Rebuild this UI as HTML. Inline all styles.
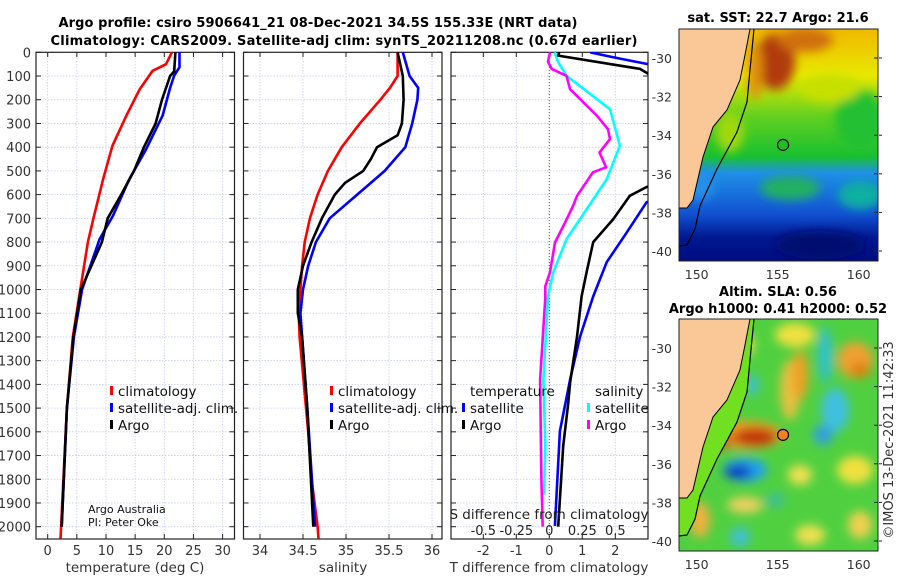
<!DOCTYPE html>
<html><head><meta charset="utf-8"><style>
html,body{margin:0;padding:0;background:#fff;}
svg{display:block;font-family:"DejaVu Sans","Liberation Sans",sans-serif;}
</style></head><body>
<svg id="fig" width="900" height="580" viewBox="0 0 900 580" xmlns="http://www.w3.org/2000/svg">
<defs>
<clipPath id="c1"><rect x="36" y="52" width="198.5" height="487"/></clipPath>
<clipPath id="c2"><rect x="243.5" y="52" width="198.5" height="487"/></clipPath>
<clipPath id="c3"><rect x="451" y="52" width="197" height="487"/></clipPath>
<clipPath id="m1"><rect x="679" y="29" width="199" height="232"/></clipPath>
<clipPath id="m2"><rect x="679" y="319" width="199" height="232"/></clipPath>
<filter id="bl" x="-50%" y="-50%" width="200%" height="200%"><feGaussianBlur stdDeviation="9"/></filter>
<filter id="bl2" x="-50%" y="-50%" width="200%" height="200%"><feGaussianBlur stdDeviation="5"/></filter>
<linearGradient id="sstg" x1="0" y1="0" x2="0" y2="1">
<stop offset="0" stop-color="#f0b800"/><stop offset="0.2" stop-color="#e8e800"/><stop offset="0.38" stop-color="#60d020"/><stop offset="0.55" stop-color="#18c030"/><stop offset="0.62" stop-color="#2090e8"/><stop offset="0.8" stop-color="#1050d0"/><stop offset="0.9" stop-color="#001890"/><stop offset="1" stop-color="#000c80"/>
</linearGradient>
</defs>
<g font-weight="bold" font-size="13" text-anchor="middle" fill="#000">
<text x="318" y="27" textLength="519">Argo profile: csiro 5906641_21 08-Dec-2021 34.5S 155.33E (NRT data)</text>
<text x="344" y="45" textLength="587">Climatology: CARS2009. Satellite-adj clim: synTS_20211208.nc (0.67d earlier)</text>
</g>
<g id="plots"></g>
<g id="maps"></g>
</svg>
<script>
const NS="http://www.w3.org/2000/svg";
// ---- data ----
const tDepth=[0,50,78,155,267,394,535,704,800,1000,1200,1500,2000,2050];
const tClim=[21.3,20.3,18.0,15.8,13.5,11.1,9.5,7.8,6.9,5.6,4.3,3.3,2.3,2.2];
const sbDepth=[0,63,98,150,267,408,535,689,788,1000,1200,1500,2000];
const tSat=[22.6,22.6,21.7,21.0,19.7,16.9,14.0,11.2,8.9,5.9,4.5,3.3,2.4];
const taDepth=[0,80,100,200,300,400,500,600,700,800,1000,1200,1500,2000];
const tArgo=[21.9,21.7,21.0,19.6,18.5,16.5,14.8,12.6,10.3,9.3,5.7,4.4,3.3,2.4];
const sDepth=[0,100,150,200,300,400,500,600,700,800,900,1000,1100,1200,1400,1600,1800,2000,2050];
const sClim=[35.60,35.60,35.51,35.40,35.16,34.95,34.79,34.67,34.58,34.52,34.49,34.47,34.45,34.46,34.51,34.56,34.60,34.67,34.68];
const sbsDepth=[0,100,150,200,300,400,500,600,700,800,900,1000,1100,1200,1500,2000];
const sSat=[35.66,35.74,35.84,35.83,35.77,35.69,35.45,35.13,34.81,34.65,34.56,34.50,34.47,34.49,34.55,34.64];
const saDepth=[0,100,200,300,350,400,450,500,550,600,700,800,900,1000,1100,1200,1500,2000];
const sArgo=[35.60,35.66,35.67,35.65,35.60,35.36,35.29,35.20,34.99,34.87,34.72,34.60,34.50,34.44,34.44,34.49,34.55,34.62];
const dtsDepth=[0,20,49,70,600,632,761,885,1029,1200,1380,1597,1997];
const dtSat=[1.24,1.9,2.95,3.6,3.6,2.95,2.34,1.74,1.33,0.93,0.63,0.32,0.17];
const dtaDepth=[0,14,70,99,150,540,568,605,703,800,927,1029,1200,1392,1485,1660,2000];
const dtArgo=[0.3,0.27,2.75,3.1,3.6,3.6,2.95,2.44,1.94,1.33,1.13,0.98,0.84,0.63,0.57,0.42,0.27];
const dssDepth=[0,40,99,240,394,535,661,788,927,1029,1380,1660,1865];
const dsSat=[0.04,0.066,0.13,0.46,0.535,0.435,0.283,0.13,0.03,-0.01,-0.045,-0.03,-0.04];
const dsaDepth=[0,40,70,99,155,267,324,366,422,485,506,605,647,717,802,927,986,1035,1380,1800,2000];
const dsArgo=[0.005,-0.01,0.018,0.13,0.157,0.36,0.445,0.46,0.38,0.43,0.33,0.21,0.18,0.12,0.043,0.005,-0.03,-0.03,-0.07,-0.06,-0.05];
const depthTicks=[0,100,200,300,400,500,600,700,800,900,1000,1100,1200,1300,1400,1500,1600,1700,1800,1900,2000];
const tTicks=[0,5,10,15,20,25,30];
const sTicks=[34,34.5,35,35.5,36];
const dtTicks=[-2,-1,0,1,2];
const dsTicks=[-0.5,-0.25,0,0.25,0.5];
const latTicks=[-30,-32,-34,-36,-38,-40];
const lonTicks=[150,155,160];
// ---- scales ----
const Y=d=>52.3+d*0.2372;
const XT=t=>47.7+t*5.83;
const XS=s=>260+(s-34)*86;
const XDT=v=>549.3+v*33;
const XDS=v=>549.3+v*132;
const LON=l=>696.7+(l-150)*16.2;
const LAT1=a=>58+(-30-a)*19.3;
const LAT2=a=>348+(-30-a)*19.3;
const root=document.getElementById('plots');
function el(tag,attrs,parent,txt){const e=document.createElementNS(NS,tag);for(const k in attrs)e.setAttribute(k,attrs[k]);if(txt!==undefined)e.textContent=txt;(parent||root).appendChild(e);return e;}
const panels=[{x0:36,x1:234.5,ticks:tTicks,sx:XT,fmt:v=>String(v),clip:'c1',name:'temperature'},
{x0:243.5,x1:442,ticks:sTicks,sx:XS,fmt:v=>String(v),clip:'c2',name:'salinity'},
{x0:451,x1:648,ticks:dtTicks,sx:XDT,fmt:v=>String(v),clip:'c3',name:'difference'}];
panels.forEach((p,i)=>{
 const g=el('g',{});
 
 
 depthTicks.forEach(d=>{const l=el('line',{x1:p.x0,x2:p.x1,y1:Y(d),y2:Y(d),stroke:'#c8cce8','stroke-width':0.8,'stroke-dasharray':'1.5,1.5'},g);
  el('line',{x1:p.x0,x2:p.x0+5,y1:Y(d),y2:Y(d),stroke:'#222'},g);el('line',{x1:p.x1-5,x2:p.x1,y1:Y(d),y2:Y(d),stroke:'#222'},g);});
 p.ticks.forEach(t=>{const x=p.sx(t);const l=el('line',{x1:x,x2:x,y1:52,y2:539,stroke:'#c8cce8','stroke-width':0.8,'stroke-dasharray':'1.5,1.5'},g);
  el('line',{x1:x,x2:x,y1:52,y2:57,stroke:'#222'},g);el('line',{x1:x,x2:x,y1:534,y2:539,stroke:'#222'},g);
  const tx=el('text',{x:x,y:555,'font-size':13,'text-anchor':'middle',fill:'#333'},g,p.fmt(t));});
 const r=el('rect',{x:p.x0,y:52.3,width:p.x1-p.x0,height:486.7,fill:'none',stroke:'#222','stroke-width':1.2},g);
 
});
depthTicks.forEach(d=>{const t=el('text',{x:31,y:Y(d)+5,'font-size':13,'text-anchor':'end',fill:'#333'},root,String(d));});
function line(xs,ds,sx,color,clip,name,w){const pts=xs.map((v,i)=>sx(v).toFixed(1)+','+Y(ds[i]).toFixed(1)).join(' ');const pl=el('polyline',{points:pts,fill:'none',stroke:color,'stroke-width':w||2.6,'stroke-linejoin':'round','clip-path':'url(#'+clip+')'});}
const z=el('line',{x1:XDT(0),x2:XDT(0),y1:52,y2:539,stroke:'#556b2f','stroke-width':1,'stroke-dasharray':'1,2'});

line(tClim,tDepth,XT,'#ff0000','c1','temperature-climatology-line');
line(tSat,sbDepth,XT,'#0000ff','c1','temperature-satellite-line');
line(tArgo,taDepth,XT,'#000','c1','temperature-argo-line');
line(sClim,sDepth,XS,'#ff0000','c2','salinity-climatology-line');
line(sSat,sbsDepth,XS,'#0000ff','c2','salinity-satellite-line');
line(sArgo,saDepth,XS,'#000','c2','salinity-argo-line');
line(dsSat,dssDepth,XDS,'#00ffff','c3','salinity-diff-satellite-line');
line(dsArgo,dsaDepth,XDS,'#ff00ff','c3','salinity-diff-argo-line');
line(dtSat,dtsDepth,XDT,'#0000ff','c3','temperature-diff-satellite-line');
line(dtArgo,dtaDepth,XDT,'#000','c3','temperature-diff-argo-line');
[['temperature (deg C)',135,'x-axis-title-temperature'],['salinity',343,'x-axis-title-salinity'],['T difference from climatology',549,'x-axis-title-t-difference']].forEach(a=>{const t=el('text',{x:a[1],y:572,'font-size':13.5,'text-anchor':'middle',fill:'#333'},root,a[0]);});
const st=el('text',{x:549,y:519,'font-size':13.5,'text-anchor':'middle',fill:'#222'},root,'S difference from climatology');

dsTicks.forEach(v=>{const t=el('text',{x:XDS(v),y:535,'font-size':13,'text-anchor':'middle',fill:'#222'},root,String(v));});
function leg(x,y,color,label,name){const g=el('g',{});el('rect',{x:x,y:y-10,width:3,height:9,fill:color},g);el('text',{x:x+8,y:y,'font-size':13.5,fill:'#111'},g,label);}
leg(110,396,'#ff0000','climatology','legend-climatology');
leg(110,413,'#0000ff','satellite-adj. clim.','legend-satellite-adj');
leg(110,430,'#000','Argo','legend-argo');
leg(330,396,'#ff0000','climatology','legend-climatology-salinity');
leg(330,413,'#0000ff','satellite-adj. clim.','legend-satellite-adj-salinity');
leg(330,430,'#000','Argo','legend-argo-salinity');
const lt=el('text',{x:470,y:396,'font-size':13.5,fill:'#111'},root,'temperature');
const ls=el('text',{x:595,y:396,'font-size':13.5,fill:'#111'},root,'salinity');
leg(462,413,'#0000ff','satellite','legend-t-satellite');
leg(462,430,'#000','Argo','legend-t-argo');
leg(587,413,'#00ffff','satellite','legend-s-satellite');
leg(587,430,'#ff00ff','Argo','legend-s-argo');
const a1=el('text',{x:88,y:513,'font-size':11,fill:'#111'},root,'Argo Australia');
const a2=el('text',{x:88,y:526,'font-size':11,fill:'#111'},root,'PI: Peter Oke');

// ---- maps ----
const mroot=document.getElementById('maps');
function mel(tag,attrs,parent,txt){return el(tag,attrs,parent||mroot,txt);}
const coast=[[750,29],[745,55],[740,80],[727,110],[713,127],[703,157],[693,200],[687,208],[679,208]];
const shelf=[[754,29],[750,70],[747,102],[737,132],[717,169],[700,206],[695,229],[687,245],[679,246]];
function drawMap(off,clip,name,kind){
 const g=mel('g',{'clip-path':'url(#'+clip+')'});
 
 
 const y0=off?319:29;
 if(kind==='sst'){
  mel('rect',{x:679,y:y0,width:199,height:232,fill:'url(#sstg)'},g);
  const b=mel('g',{filter:'url(#bl2)'},g);
  mel('ellipse',{cx:775,cy:62,rx:20,ry:28,fill:'#b03a10'},b);
  mel('ellipse',{cx:805,cy:40,rx:28,ry:12,fill:'#d07010'},b);
  mel('ellipse',{cx:755,cy:70,rx:8,ry:30,fill:'#e09010'},b);
  mel('ellipse',{cx:860,cy:120,rx:25,ry:30,fill:'#20c030'},b);
  mel('ellipse',{cx:830,cy:88,rx:30,ry:14,fill:'#c8e000'},b);
  mel('ellipse',{cx:730,cy:132,rx:14,ry:20,fill:'#a0d810'},b);
  mel('ellipse',{cx:860,cy:195,rx:22,ry:14,fill:'#10b0a0'},b);
  mel('ellipse',{cx:790,cy:188,rx:30,ry:12,fill:'#20b060'},b);
  mel('ellipse',{cx:700,cy:185,rx:15,ry:15,fill:'#2090e8'},b);
  mel('ellipse',{cx:820,cy:245,rx:45,ry:14,fill:'#000a70'},b);
 } else {
  mel('rect',{x:679,y:y0,width:199,height:232,fill:'#50d040'},g);
  const b=mel('g',{filter:'url(#bl2)'},g);
  [[740,345,14,12,'#f0e060'],[795,335,20,12,'#f0e040'],[790,390,10,30,'#e8c040'],[800,375,8,25,'#f0a020'],
   [855,360,18,18,'#f0a030'],[860,370,10,8,'#e08010'],[745,435,38,14,'#f0a020'],[755,437,22,9,'#c03010'],[720,440,12,9,'#d06020'],
   [745,470,22,12,'#20a0f0'],[738,472,14,7,'#1040c0'],[835,410,14,22,'#40c0e0'],[823,435,10,10,'#30a0e0'],[825,355,7,28,'#30c0d0'],
   [752,385,7,10,'#40c0d0'],[800,475,12,10,'#f0e050'],[855,470,18,14,'#f0e040'],[700,520,10,18,'#f0b040'],[745,505,18,8,'#f0d060'],
   [740,537,10,10,'#40c0d0'],[810,535,15,10,'#f0e050'],[860,525,12,14,'#f0d050'],[775,500,10,8,'#40c090']]
   .forEach(e=>mel('ellipse',{cx:e[0],cy:e[1],rx:e[2],ry:e[3],fill:e[4]},b));
 }
 const c=coast.map(p=>[p[0],p[1]+(off?290:0)]);
 const s=shelf.map(p=>[p[0],p[1]+(off?290:0)]);
 if(kind!=='sst'){mel('polygon',{points:s.map(p=>p.join(',')).join(' ')+' 679,'+(y0)+' ',fill:'#70e020'},g);}
 mel('polygon',{points:c.map(p=>p.join(',')).join(' ')+' 679,'+y0,fill:'#f9c896'},g);
 mel('polyline',{points:c.map(p=>p.join(',')).join(' '),fill:'none',stroke:'#000','stroke-width':1},g);
 mel('polyline',{points:s.map(p=>p.join(',')).join(' '),fill:'none',stroke:'#000','stroke-width':1.2},g);
 const ci=mel('circle',{cx:LON(155.33),cy:(off?LAT2:LAT1)(-34.5),r:5.5,fill:kind==='sst'?'#20c020':'#f08020',stroke:'#000','stroke-width':1.2},mroot);
 
 const fr=mel('rect',{x:679,y:y0,width:199,height:232,fill:'none',stroke:'#222','stroke-width':1});
 
 latTicks.forEach(a=>{const y=(off?LAT2:LAT1)(a);mel('line',{x1:874,x2:878,y1:y,y2:y,stroke:'#222'});mel('line',{x1:879,x2:882,y1:y,y2:y,stroke:'#222'});
  const t=mel('text',{x:672,y:y+5,'font-size':12.5,'text-anchor':'end',fill:'#333'},mroot,String(a));});
 lonTicks.forEach(l=>{const t=mel('text',{x:LON(l),y:y0+250,'font-size':12.5,'text-anchor':'middle',fill:'#333'},mroot,String(l));});
}
drawMap(false,'m1','sst-map','sst');
drawMap(true,'m2','sla-map','sla');
[['sat. SST: 22.7 Argo: 21.6',778,22,'sst-map-title'],['Altim. SLA: 0.56',778,296,'sla-map-title'],['Argo h1000: 0.41 h2000: 0.52',778,313,'sla-map-subtitle']].forEach(a=>{
 const t=mel('text',{x:a[1],y:a[2],'font-size':13,'font-weight':'bold','text-anchor':'middle',fill:'#000'},mroot,a[0]);});
const cp=mel('text',{x:0,y:0,'font-size':13,'text-anchor':'middle',fill:'#333',transform:'translate(893,440) rotate(-90)'},mroot,'©IMOS 13-Dec-2021 11:42:33');

</script>
</body></html>
